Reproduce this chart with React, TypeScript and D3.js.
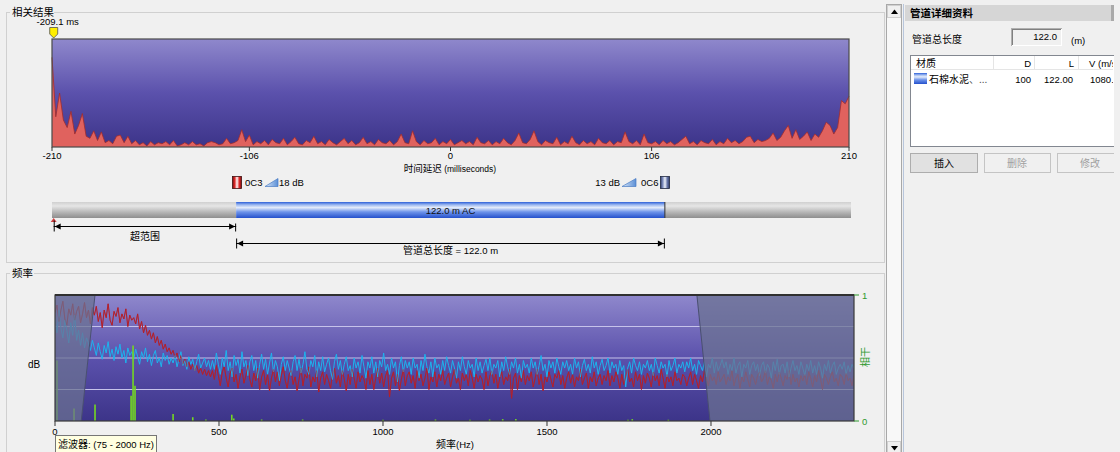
import React from "react";
import * as d3 from "d3";

// ---------- DATA ----------
const corrStartMs = -210;
const corrStepMs = 2;
const corrValues = [
  0.83, 0.28, 0.5, 0.25, 0.18, 0.33, 0.12, 0.2, 0.31, 0.1,
  0.08, 0.15, 0.06, 0.14, 0.04, 0.06, 0.03, 0.1, 0.11, 0.04,
  0.1, 0.03, 0.06, 0.02, 0.04, 0.01, 0.05, 0.02, 0.04, 0.03,
  0.05, 0.02, 0.06, 0.01, 0.02, 0.04, 0.02, 0.05, 0.02, 0.03,
  0.01, 0.04, 0.05, 0.04, 0.02, 0.03, 0.08, 0.03, 0.04, 0.06,
  0.16, 0.05, 0.11, 0.02, 0.05, 0.03, 0.06, 0.02, 0.07, 0.04,
  0.03, 0.08, 0.02, 0.05, 0.09, 0.03, 0.02, 0.06, 0.04, 0.1,
  0.03, 0.05, 0.02, 0.07, 0.04, 0.02, 0.05, 0.08, 0.03, 0.06,
  0.02, 0.04, 0.09, 0.03, 0.05, 0.02, 0.07, 0.04, 0.03, 0.06,
  0.02, 0.05, 0.12, 0.04, 0.03, 0.15, 0.05, 0.02, 0.06, 0.03,
  0.04, 0.08, 0.02, 0.05, 0.03, 0.07, 0.02, 0.04, 0.06, 0.03,
  0.05, 0.02, 0.09, 0.04, 0.03, 0.06, 0.02, 0.05, 0.03, 0.08,
  0.04, 0.02, 0.06, 0.13, 0.04, 0.03, 0.07, 0.15, 0.05, 0.02,
  0.06, 0.04, 0.03, 0.09, 0.02, 0.05, 0.03, 0.1, 0.04, 0.02,
  0.06, 0.03, 0.05, 0.02, 0.08, 0.04, 0.03, 0.06, 0.02, 0.05,
  0.04, 0.14, 0.05, 0.03, 0.06, 0.02, 0.12, 0.04, 0.03, 0.05,
  0.02, 0.06, 0.03, 0.05, 0.02, 0.04, 0.07, 0.1, 0.03, 0.05,
  0.02, 0.06, 0.04, 0.03, 0.07, 0.02, 0.05, 0.03, 0.08, 0.04,
  0.06, 0.03, 0.05, 0.09, 0.1, 0.04, 0.07, 0.05, 0.06, 0.08,
  0.13, 0.06, 0.09, 0.15, 0.2, 0.08, 0.16, 0.07, 0.1, 0.14,
  0.06, 0.12, 0.09, 0.15, 0.23, 0.2, 0.12, 0.18, 0.43, 0.4, 0.47,
];
const timeTicks = [-210, -106, 0, 106, 210];
const markerMs = -209.1;

const pipeLengthM = 122.0;
const pipeVelocity = 1080;
const pipeDiameter = 100;
const gainLeftDb = 18;
const gainRightDb = 13;

const specStepHz = 6;
const redSpectrum = [
  86, 92, 79, 88, 95, 81, 76, 89, 84, 93, 80, 87, 91, 78, 85, 94, 82, 88, 77, 90,
  84, 91, 79, 86, 74, 88, 82, 93, 80, 76, 87, 83, 90, 78, 85, 81, 89, 75, 84, 80,
  82, 77, 85, 73, 79, 70, 76, 68, 72, 65, 70, 62, 67, 60, 64, 57, 61, 55, 58, 53,
  56, 50, 54, 47, 52, 45, 49, 43, 47, 41, 45, 40, 44, 38, 42, 37, 41, 36, 40, 35,
  40, 33, 44, 36, 28, 39, 43, 34, 27, 38, 42, 31, 37, 26, 35, 41, 30, 36, 44, 33,
  27, 38, 32, 42, 25, 35, 40, 29, 37, 24, 34, 41, 31, 39, 28, 36, 43, 32, 26, 37,
  40, 29, 35, 24, 33, 42, 28, 37, 34, 43, 27, 35, 31, 40, 23, 34, 39, 29, 37, 32,
  26, 37, 42, 30, 36, 27, 40, 33, 24, 37, 29, 41, 34, 26, 39, 31, 36, 33, 25, 40,
  29, 37, 25, 34, 42, 30, 38, 27, 36, 40, 19, 34, 39, 28, 37, 24, 33, 41, 28, 36,
  39, 30, 36, 26, 40, 32, 37, 28, 34, 42, 25, 35, 31, 39, 27, 37, 32, 40, 29, 34,
  38, 27, 35, 41, 30, 34, 25, 38, 32, 37, 28, 40, 34, 26, 37, 31, 36, 33, 25, 39,
  28, 36, 40, 30, 37, 26, 34, 39, 29, 35, 32, 41, 18, 34, 38, 25, 36, 31, 40, 29,
  36, 32, 39, 27, 34, 41, 29, 37, 24, 35, 31, 39, 33, 27, 37, 34, 40, 29, 36, 26,
  34, 39, 30, 37, 27, 35, 32, 41, 29, 34, 38, 26, 35, 31, 39, 28, 34, 37, 29, 36,
  32, 40, 28, 36, 31, 39, 34, 26, 37, 29, 35, 41, 31, 34, 27, 39, 32, 37, 25, 36,
  30, 38, 34, 27, 39, 32, 36, 28, 41, 34, 26, 37, 31, 35, 28, 39, 32, 34, 29, 37,
  35, 28, 34, 39, 29, 37, 32, 26, 36, 31, 40, 34, 28, 37, 32, 35, 29, 39, 31, 34,
  37, 29, 35, 32, 40, 28, 34, 37, 26, 35, 31, 39, 33, 27, 37, 34, 29, 36, 39, 31,
  34, 40, 29, 35, 32, 26, 37, 31, 39, 34, 28, 36, 33, 40, 29, 37, 31, 34, 27, 36,
  32, 37, 29, 39, 34, 27, 36, 31, 40, 33, 25, 37, 34, 29, 35, 39, 31, 34, 28, 37,
  35, 29, 38, 32, 34, 28, 36,
];
const cyanSpectrum = [
  82, 70, 88, 74, 66, 80, 72, 62, 78, 68, 84, 64, 72, 60, 70, 58, 66, 62, 56, 64,
  58, 52, 62, 55, 49, 60, 54, 63, 51, 57, 48, 59, 53, 61, 50, 56, 46, 58, 52, 55,
  49, 57, 51, 45, 55, 50, 58, 47, 53, 44, 52, 56, 46, 50, 43, 54, 48, 52, 45, 50,
  46, 52, 43, 49, 55, 44, 48, 41, 51, 45, 49, 40, 47, 53, 42, 46, 50, 43, 48, 41,
  48, 41, 54, 45, 37, 50, 43, 56, 40, 47, 35, 52, 44, 49, 38, 55, 43, 48, 36, 47,
  52, 40, 48, 34, 45, 53, 41, 49, 37, 46, 54, 39, 48, 43, 32, 45, 51, 40, 48, 42,
  36, 47, 52, 40, 49, 38, 45, 55, 41, 37, 48, 43, 52, 35, 47, 40, 51, 39, 45, 50,
  40, 33, 47, 53, 41, 48, 37, 45, 51, 40, 44, 35, 50, 42, 47, 38, 52, 43, 34, 47,
  42, 51, 38, 47, 35, 48, 43, 54, 40, 45, 37, 50, 42, 47, 31, 44, 51, 39, 48, 42,
  47, 37, 50, 42, 45, 34, 48, 40, 53, 43, 38, 47, 35, 50, 42, 45, 37, 48, 40, 51,
  44, 38, 48, 42, 34, 47, 40, 51, 43, 37, 48, 42, 45, 35, 50, 40, 47, 38, 44, 49,
  40, 50, 37, 45, 42, 48, 35, 47, 40, 51, 43, 37, 47, 42, 50, 38, 45, 34, 48, 42,
  45, 38, 50, 42, 47, 37, 44, 52, 40, 45, 35, 48, 42, 47, 38, 50, 43, 37, 47, 42,
  48, 40, 45, 37, 50, 42, 47, 35, 44, 49, 40, 45, 38, 51, 42, 47, 37, 44, 49, 40,
  44, 50, 38, 47, 42, 45, 37, 48, 40, 44, 27, 42, 47, 38, 50, 44, 40, 47, 37, 45,
  42, 48, 40, 45, 36, 50, 44, 38, 47, 42, 45, 35, 48, 40, 44, 50, 38, 45, 42, 47,
  39, 47, 42, 50, 40, 45, 37, 48, 44, 40, 47, 35, 45, 42, 50, 38, 47, 40, 44, 49,
  42, 47, 37, 45, 40, 50, 38, 44, 47, 35, 45, 42, 48, 37, 44, 47, 40, 45, 36, 44,
  47, 38, 45, 42, 34, 47, 40, 49, 37, 44, 45, 38, 47, 35, 42, 48, 40, 44, 37, 47,
  42, 36, 45, 40, 48, 38, 44, 37, 47, 42, 34, 45, 40, 48, 38, 44, 47, 37, 42, 45,
  41, 47, 37, 44, 39, 45, 42,
];
const cohFreqs = [6, 58, 122, 232, 238, 244, 360, 420, 460, 539, 545, 630, 755, 1000, 1160, 1265, 1325, 1365, 1405, 1747, 1760, 1870];
const cohValues = [0.48, 0.1, 0.13, 0.2, 0.6, 0.28, 0.055, 0.03, 0.012, 0.05, 0.02, 0.012, 0.012, 0.01, 0.012, 0.01, 0.012, 0.015, 0.015, 0.01, 0.015, 0.01];
const freqTicks = [0, 500, 1000, 1500, 2000];
const gridLevels = [25, 50, 75];
const filterLowHz = 75;
const filterHighHz = 2000;
const lowCutEdgeHz = [122, 80]; // top, bottom
const highCutEdgeHz = [1957, 1997]; // top, bottom

// ---------- STYLE ----------
const FONT = "'Liberation Sans', 'Noto Sans CJK SC', Arial, sans-serif";
const CJK = "'Noto Sans CJK SC', 'Liberation Sans', sans-serif";
const BG = "#f0f0f0";

function Arrow({ x1, x2, y, h1, h2 }: { x1: number; x2: number; y: number; h1: number; h2: number }) {
  return (
    <g>
      <line x1={x1} x2={x2} y1={y} y2={y} stroke="#000" strokeWidth={1} />
      <line x1={x1 + 0.5} x2={x1 + 0.5} y1={y - h1} y2={y + 5} stroke="#000" />
      <line x1={x2 - 0.5} x2={x2 - 0.5} y1={y - h2} y2={y + 5} stroke="#000" />
      <polygon points={`${x1 + 1},${y} ${x1 + 7},${y - 3} ${x1 + 7},${y + 3}`} fill="#000" />
      <polygon points={`${x2 - 1},${y} ${x2 - 7},${y - 3} ${x2 - 7},${y + 3}`} fill="#000" />
    </g>
  );
}

export default function App() {
  // top correlation chart
  const xT = d3.scaleLinear().domain([-210, 210]).range([52, 849]);
  const yT = d3.scaleLinear().domain([0, 1]).range([147, 39]);
  const corrPts: [number, number][] = corrValues.map((v, i) => [corrStartMs + i * corrStepMs, v]);
  const corrArea = d3.area<[number, number]>().x((d) => xT(d[0])).y0(yT(0)).y1((d) => yT(d[1]))(corrPts) || "";
  const corrLine = d3.line<[number, number]>().x((d) => xT(d[0])).y((d) => yT(d[1]))(corrPts) || "";

  // pipe distance scale (m from centre)
  const halfRangeM = (210 / 1000) * pipeVelocity / 2;
  const xP = d3.scaleLinear().domain([-halfRangeM, halfRangeM]).range([52, 849]);
  const s1 = xP(-pipeLengthM / 2);
  const s2 = xP(pipeLengthM / 2);
  const markerX = xT(markerMs);

  // bottom spectrum chart
  const fMax = (redSpectrum.length - 1) * specStepHz;
  const xF = d3.scaleLinear().domain([0, fMax]).range([55, 854]);
  const yF = d3.scaleLinear().domain([0, 100]).range([421, 295]);
  const yC = d3.scaleLinear().domain([0, 1]).range([421, 295]);
  const spec = (arr: number[]) =>
    d3.line<number>().x((_, i) => xF(i * specStepHz)).y((d) => yF(d))(arr) || "";
  const fTop = 295, fBot = 421, fL = 55, fR = 854;

  const lowPoly = [
    [xF(0), fTop], [xF(lowCutEdgeHz[0]), fTop], [xF(lowCutEdgeHz[1]), fBot], [xF(0), fBot],
  ];
  const highPoly = [
    [xF(highCutEdgeHz[0]), fTop], [fR, fTop], [fR, fBot], [xF(highCutEdgeHz[1]), fBot],
  ];
  const pts = (p: number[][]) => p.map((q) => q.join(",")).join(" ");

  return (
    <div style={{ position: "absolute", left: 0, top: 0 }}>
      <svg width={1120} height={452} style={{ display: "block" }}>
        <defs>
          <linearGradient id="plotGrad" x1="0" y1="0" x2="0" y2="1">
            <stop offset="0" stopColor="#8f88cc" />
            <stop offset="0.5" stopColor="#5b51ac" />
            <stop offset="1" stopColor="#3c3489" />
          </linearGradient>
          <linearGradient id="grayBar" x1="0" y1="0" x2="0" y2="1">
            <stop offset="0" stopColor="#d0d0d0" />
            <stop offset="0.25" stopColor="#e6e6e6" />
            <stop offset="0.65" stopColor="#b4b4b4" />
            <stop offset="1" stopColor="#8e8e8e" />
          </linearGradient>
          <linearGradient id="blueBar" x1="0" y1="0" x2="0" y2="1">
            <stop offset="0" stopColor="#2c5fd8" />
            <stop offset="0.18" stopColor="#9fbaf0" />
            <stop offset="0.35" stopColor="#e4ecfb" />
            <stop offset="0.62" stopColor="#6e94ea" />
            <stop offset="1" stopColor="#2450cc" />
          </linearGradient>
          <linearGradient id="redIcon" x1="0" y1="0" x2="1" y2="0">
            <stop offset="0" stopColor="#7a1010" />
            <stop offset="0.25" stopColor="#e02828" />
            <stop offset="0.5" stopColor="#ffffff" />
            <stop offset="0.75" stopColor="#e02828" />
            <stop offset="1" stopColor="#7a1010" />
          </linearGradient>
          <linearGradient id="blueIcon" x1="0" y1="0" x2="1" y2="0">
            <stop offset="0" stopColor="#303c68" />
            <stop offset="0.25" stopColor="#8090c0" />
            <stop offset="0.5" stopColor="#eef2fa" />
            <stop offset="0.75" stopColor="#6878aa" />
            <stop offset="1" stopColor="#303c68" />
          </linearGradient>
          <linearGradient id="ramp" x1="0" y1="0" x2="1" y2="0">
            <stop offset="0" stopColor="#d8e6f8" />
            <stop offset="1" stopColor="#5b8fd6" />
          </linearGradient>
          <clipPath id="specClip">
            <rect x={fL} y={fTop} width={fR - fL} height={fBot - fTop} />
          </clipPath>
          <clipPath id="panelClip">
            <rect x={903} y={0} width={211} height={452} />
          </clipPath>
          <clipPath id="listClip">
            <rect x={911} y={56} width={202} height={90} />
          </clipPath>
        </defs>

        <rect x={0} y={0} width={1120} height={452} fill={BG} />

        {/* ---------- group box: 相关结果 ---------- */}
        <rect x={6.5} y={12.5} width={878} height={250} fill="none" stroke="#d0d0d0" />
        <rect x={10} y={5} width={44} height={13} fill={BG} />
        <text x={12} y={15.5} fontFamily={CJK} fontSize={10.5} fill="#000">相关结果</text>

        {/* plot */}
        <rect x={52} y={39} width={797} height={108} fill="url(#plotGrad)" />
        <path d={corrArea} fill="#e0625e" />
        <path d={corrLine} fill="none" stroke="#a22c2c" strokeWidth={0.8} />
        <rect x={52} y={39} width={797} height={108} fill="none" stroke="#4a4a4a" strokeWidth={1.2} />

        {/* marker */}
        <text x={markerX + 4} y={25} textAnchor="middle" fontFamily={FONT} fontSize={9.5} fill="#000">{`${markerMs.toFixed(1)} ms`}</text>
        <polygon
          points={`${markerX - 4},27.5 ${markerX + 4},27.5 ${markerX + 4},34 ${markerX},38 ${markerX - 4},34`}
          fill="#ffee00" stroke="#505050" strokeWidth={0.8}
        />

        {/* x axis */}
        {timeTicks.map((t) => (
          <g key={t}>
            <line x1={xT(t)} x2={xT(t)} y1={147} y2={151} stroke="#333" />
            <text x={xT(t)} y={159} textAnchor="middle" fontFamily={FONT} fontSize={9.5} fill="#000">{t}</text>
          </g>
        ))}
        <text x={450} y={172} textAnchor="middle" fontFamily={FONT} fill="#000">
          <tspan fontFamily={CJK} fontSize={9.5}>时间延迟</tspan>
          <tspan fontSize={8.5}> (milliseconds)</tspan>
        </text>

        {/* sensors */}
        <rect x={232.5} y={176.5} width={9} height={12} fill="url(#redIcon)" stroke="#401010" strokeWidth={0.8} />
        <text x={245} y={186} fontFamily={FONT} fontSize={9.5} fill="#000">0C3</text>
        <polygon points="265,186.5 278,186.5 278,178.5" fill="url(#ramp)" stroke="#4a7cc4" strokeWidth={0.7} />
        <text x={279} y={186} fontFamily={FONT} fontSize={9.5} fill="#000">{`${gainLeftDb} dB`}</text>

        <text x={620} y={186} textAnchor="end" fontFamily={FONT} fontSize={9.5} fill="#000">{`${gainRightDb} dB`}</text>
        <polygon points="622,186.5 636,186.5 636,178.5" fill="url(#ramp)" stroke="#4a7cc4" strokeWidth={0.7} />
        <text x={641} y={186} fontFamily={FONT} fontSize={9.5} fill="#000">0C6</text>
        <rect x={660.5} y={176.5} width={9} height={12} fill="url(#blueIcon)" stroke="#202840" strokeWidth={0.8} />

        {/* pipe bar */}
        <rect x={52} y={202} width={s1 - 52} height={16} fill="url(#grayBar)" />
        <rect x={s2} y={202} width={851 - s2} height={16} fill="url(#grayBar)" />
        <rect x={s1} y={202} width={s2 - s1} height={16} fill="url(#blueBar)" />
        <line x1={s2} x2={s2} y1={202} y2={218} stroke="#303030" />
        <text x={(s1 + s2) / 2} y={213.5} textAnchor="middle" fontFamily={FONT} fontSize={9.5} fill="#101010">{`${pipeLengthM.toFixed(1)} m AC`}</text>

        {/* marker position and arrows */}
        <polygon points={`${markerX - 3},222 ${markerX + 3},222 ${markerX},218`} fill="#d04040" />
        <Arrow x1={markerX} x2={s1} y={226.5} h1={6} h2={3} />
        <text x={(markerX + s1) / 2} y={240} textAnchor="middle" fontFamily={CJK} fontSize={10} fill="#000">超范围</text>
        <Arrow x1={s1} x2={s2} y={243.5} h1={5} h2={5} />
        <text x={(s1 + s2) / 2} y={254} textAnchor="middle" fontFamily={FONT} fontSize={9.5} fill="#000">
          <tspan fontFamily={CJK} fontSize={10}>管道总长度</tspan>
          <tspan>{` = ${pipeLengthM.toFixed(1)} m`}</tspan>
        </text>

        {/* ---------- group box: 频率 ---------- */}
        <rect x={6.5} y={273.5} width={878} height={200} fill="none" stroke="#d0d0d0" />
        <rect x={10} y={266} width={24} height={14} fill={BG} />
        <text x={12} y={277} fontFamily={CJK} fontSize={10.5} fill="#000">频率</text>

        <rect x={fL} y={fTop} width={fR - fL} height={fBot - fTop} fill="url(#plotGrad)" />
        {gridLevels.map((g) => (
          <line key={g} x1={fL} x2={fR} y1={yF(g)} y2={yF(g)} stroke="#c6c3ea" strokeWidth={1} />
        ))}
        <g clipPath="url(#specClip)">
          <path d={spec(redSpectrum)} fill="none" stroke="#b3202a" strokeWidth={1} />
          <path d={spec(cyanSpectrum)} fill="none" stroke="#1cb4ee" strokeWidth={1} />
          <path d={spec(redSpectrum)} fill="none" stroke="#b3202a" strokeWidth={0.8} strokeOpacity={0.5} />
          {cohFreqs.map((f, i) => (
            <line key={f} x1={xF(f)} x2={xF(f)} y1={yC(0)} y2={yC(cohValues[i])} stroke="#74d822" strokeWidth={1.6} />
          ))}
          <polygon points={pts(lowPoly)} fill="#6a7292" fillOpacity={0.74} />
          <polygon points={pts(highPoly)} fill="#6a7292" fillOpacity={0.74} />
          <line x1={lowPoly[1][0]} y1={fTop} x2={lowPoly[2][0]} y2={fBot} stroke="#4a5070" />
          <line x1={highPoly[0][0]} y1={fTop} x2={highPoly[3][0]} y2={fBot} stroke="#4a5070" />
        </g>
        <rect x={fL} y={fTop} width={fR - fL} height={fBot - fTop} fill="none" stroke="#3a3a3a" strokeWidth={1.2} />
        <line x1={fL} x2={fR} y1={fTop} y2={fTop} stroke="#303030" strokeWidth={2} />

        {freqTicks.map((t) => (
          <g key={t}>
            <line x1={xF(t)} x2={xF(t)} y1={fBot} y2={fBot + 5} stroke="#333" />
            <text x={xF(t)} y={435} textAnchor="middle" fontFamily={FONT} fontSize={9.5} fill="#000">{t}</text>
          </g>
        ))}
        <text x={455} y={448} textAnchor="middle" fontFamily={FONT} fill="#000">
          <tspan fontFamily={CJK} fontSize={10}>频率</tspan>
          <tspan fontSize={9.5}>(Hz)</tspan>
        </text>
        <text x={34} y={368} textAnchor="middle" fontFamily={FONT} fontSize={10} fill="#000">dB</text>

        {/* coherence axis */}
        <line x1={fR} x2={fR + 5} y1={fTop} y2={fTop} stroke="#2f9a2f" />
        <line x1={fR} x2={fR + 5} y1={fBot} y2={fBot} stroke="#2f9a2f" />
        <text x={862} y={298.5} fontFamily={FONT} fontSize={9.5} fill="#2f9a2f">1</text>
        <text x={862} y={424.5} fontFamily={FONT} fontSize={9.5} fill="#2f9a2f">0</text>
        <text transform="translate(869,357) rotate(-90)" textAnchor="middle" fontFamily={CJK} fontSize={10} fill="#2f9a2f">相干</text>

        {/* tooltip */}
        <rect x={55.5} y={435.5} width={101} height={17} fill="#ffffe1" stroke="#767676" />
        <text x={58} y={448} fontFamily={FONT} fontSize={9.5} fill="#000">
          <tspan fontFamily={CJK} fontSize={10}>滤波器</tspan>
          <tspan>{`: (${filterLowHz} - ${filterHighHz} Hz)`}</tspan>
        </text>

        {/* ---------- scrollbar ---------- */}
        <rect x={886.5} y={4.5} width={15} height={448} fill="#f8f8f8" stroke="#a8a8a8" />
        <rect x={887.5} y={5.5} width={13} height={12} fill="#f0f0f0" stroke="#d0d0d0" />
        <polygon points="891,14 898,14 894.5,9.5" fill="#000" />
        <rect x={887.5} y={441.5} width={13} height={12} fill="#f0f0f0" stroke="#d0d0d0" />
        <polygon points="891,446 898,446 894.5,450.5" fill="#000" />
        <line x1={903.5} x2={903.5} y1={4} y2={452} stroke="#b8c6dc" />

        {/* ---------- right panel ---------- */}
        <g clipPath="url(#panelClip)">
          <rect x={905} y={5} width={208} height={16} fill="#d6d6d6" />
          <rect x={1111} y={5} width={3} height={16} fill="#a9a9a9" />
          <text x={910} y={17} fontFamily={CJK} fontSize={10.5} fontWeight="bold" fill="#000">管道详细资料</text>

          <text x={912} y={43} fontFamily={CJK} fontSize={10} fill="#000">管道总长度</text>
          <rect x={1011.5} y={28.5} width={50} height={17} fill="#f0f0f0" stroke="#b0b0b0" />
          <line x1={1012} x2={1062} y1={45.5} y2={45.5} stroke="#ffffff" />
          <line x1={1061.5} x2={1061.5} y1={29} y2={46} stroke="#ffffff" />
          <line x1={1012} x2={1061} y1={29.5} y2={29.5} stroke="#808080" />
          <line x1={1012.5} x2={1012.5} y1={29} y2={45} stroke="#808080" />
          <text x={1057} y={40} textAnchor="end" fontFamily={FONT} fontSize={9.5} fill="#000">{pipeLengthM.toFixed(1)}</text>
          <text x={1071} y={44} fontFamily={FONT} fontSize={9.5} fill="#000">(m)</text>

          <rect x={910.5} y={55.5} width={205} height={91} fill="#ffffff" stroke="#828790" />
          <g clipPath="url(#listClip)">
            <line x1={911} x2={1114} y1={69.5} y2={69.5} stroke="#e5e5e5" />
            <line x1={993.5} x2={993.5} y1={56} y2={69} stroke="#e5e5e5" />
            <line x1={1034.5} x2={1034.5} y1={56} y2={69} stroke="#e5e5e5" />
            <line x1={1078.5} x2={1078.5} y1={56} y2={69} stroke="#e5e5e5" />
            <text x={916} y={67} fontFamily={CJK} fontSize={10} fill="#000">材质</text>
            <text x={1031} y={67} textAnchor="end" fontFamily={FONT} fontSize={9.5} fill="#000">D</text>
            <text x={1074} y={67} textAnchor="end" fontFamily={FONT} fontSize={9.5} fill="#000">L</text>
            <text x={1089} y={67} fontFamily={FONT} fontSize={9.5} fill="#000">V (m/s)</text>
            <rect x={914} y={73} width={13} height={11} fill="url(#blueBar)" />
            <text x={929} y={83} fontFamily={CJK} fontSize={10} fill="#000">
              石棉水泥<tspan fill="#555">、...</tspan>
            </text>
            <text x={1031} y={83} textAnchor="end" fontFamily={FONT} fontSize={9.5} fill="#000">{pipeDiameter}</text>
            <text x={1073} y={83} textAnchor="end" fontFamily={FONT} fontSize={9.5} fill="#000">{pipeLengthM.toFixed(2)}</text>
            <text x={1090} y={83} fontFamily={FONT} fontSize={9.5} fill="#000">{pipeVelocity.toFixed(1)}</text>
          </g>

          <rect x={910.5} y={153.5} width={67} height={19} fill="#e1e1e1" stroke="#adadad" />
          <text x={944} y={167} textAnchor="middle" fontFamily={CJK} fontSize={10} fill="#000">插入</text>
          <rect x={984.5} y={153.5} width={66} height={19} fill="#f0f0f0" stroke="#c4c4c4" />
          <text x={1017} y={167} textAnchor="middle" fontFamily={CJK} fontSize={10} fill="#a0a0a0">删除</text>
          <rect x={1057.5} y={153.5} width={66} height={19} fill="#f0f0f0" stroke="#c4c4c4" />
          <text x={1090} y={167} textAnchor="middle" fontFamily={CJK} fontSize={10} fill="#a0a0a0">修改</text>
        </g>
      </svg>
    </div>
  );
}
